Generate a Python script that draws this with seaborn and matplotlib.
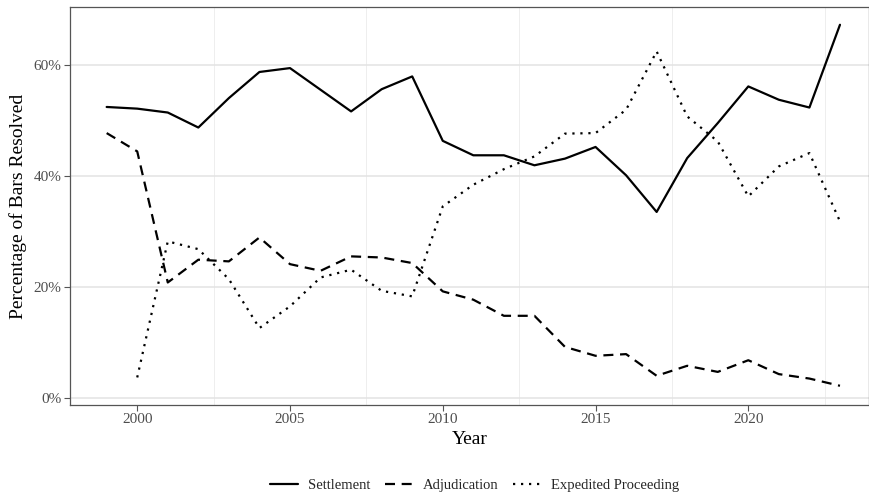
import matplotlib
matplotlib.use("Agg")
import matplotlib.pyplot as plt
import matplotlib.ticker as mticker
import seaborn as sns
import pandas as pd
import numpy as np

# values (percent)
years = list(range(1999, 2024))
settlement = [52.4, 52.1, 51.4, 48.7, 54.0, 58.7, 59.4, 55.5, 51.6, 55.6, 57.9,
              46.3, 43.7, 43.7, 41.9, 43.1, 45.2, 40.1, 33.5, 43.2, 49.5, 56.1,
              53.7, 52.3, 67.2]
adjudication = [47.7, 44.4, 20.8, 24.9, 24.6, 28.9, 24.1, 22.9, 25.5, 25.3, 24.3,
                19.2, 17.7, 14.8, 14.8, 9.2, 7.6, 7.9, 4.0, 5.8, 4.7, 6.8,
                4.3, 3.5, 2.2]
expedited = [np.nan, 3.7, 28.2, 26.8, 21.4, 12.6, 16.5, 21.7, 23.1, 19.3, 18.3,
             34.5, 38.4, 41.2, 43.5, 47.6, 47.7, 51.9, 62.4, 50.7, 46.2, 36.3,
             41.7, 44.1, 31.8]
series_names = ["Settlement", "Adjudication", "Expedited Proceeding"]

df = pd.DataFrame({"Year": years, series_names[0]: settlement,
                   series_names[1]: adjudication, series_names[2]: expedited})
long = df.melt(id_vars="Year", var_name="Outcome", value_name="Pct").dropna()

sns.set_theme(style="white")
plt.rcParams["font.family"] = ["Liberation Serif", "DejaVu Serif"]

fig = plt.figure(figsize=(8.7, 5), dpi=100)
ax = fig.add_axes([70 / 870, 95 / 500, 799 / 870, 398 / 500])

sns.lineplot(data=long, x="Year", y="Pct", style="Outcome",
             style_order=series_names,
             dashes={"Settlement": "", "Adjudication": (4.5, 3),
                     "Expedited Proceeding": (1, 2.6)},
             color="black", linewidth=1.6, ax=ax, legend=True)

ax.set_xlim(1997.8, 2023.95)
ax.set_ylim(-1.26, 70.4)
ax.xaxis.set_major_locator(mticker.MultipleLocator(5))
ax.xaxis.set_minor_locator(mticker.FixedLocator(np.arange(2002.5, 2023, 5)))
ax.yaxis.set_major_locator(mticker.MultipleLocator(20))
ax.yaxis.set_major_formatter(mticker.FuncFormatter(lambda v, p: f"{v:.0f}%"))

ax.grid(False)
ax.grid(True, axis="y", which="major", color="#e3e3e3", linewidth=1.1)
ax.grid(True, axis="x", which="minor", color="#ebebeb", linewidth=0.6)
ax.set_axisbelow(True)

for s in ax.spines.values():
    s.set_color("#555555")
    s.set_linewidth(0.9)
ax.tick_params(axis="both", which="major", length=4, width=0.8, color="#555555",
               labelsize=11, labelcolor="#4d4d4d", direction="out",
               bottom=True, left=True, pad=2)
ax.tick_params(axis="x", which="minor", length=0)

ax.set_xlabel("Year", fontsize=14, color="black", labelpad=3)
ax.set_ylabel("Percentage of Bars Resolved", fontsize=14, color="black", labelpad=5)

handles, labels = ax.get_legend_handles_labels()
ax.get_legend().remove()
for h in handles:
    h.set_linewidth(1.6)
fig.legend(handles, labels, loc="center", bbox_to_anchor=(0.546, 0.03), ncol=3,
           frameon=False, fontsize=10.5, handlelength=1.9, handletextpad=0.7,
           columnspacing=1.0)

fig.savefig("out.png", dpi=100)
